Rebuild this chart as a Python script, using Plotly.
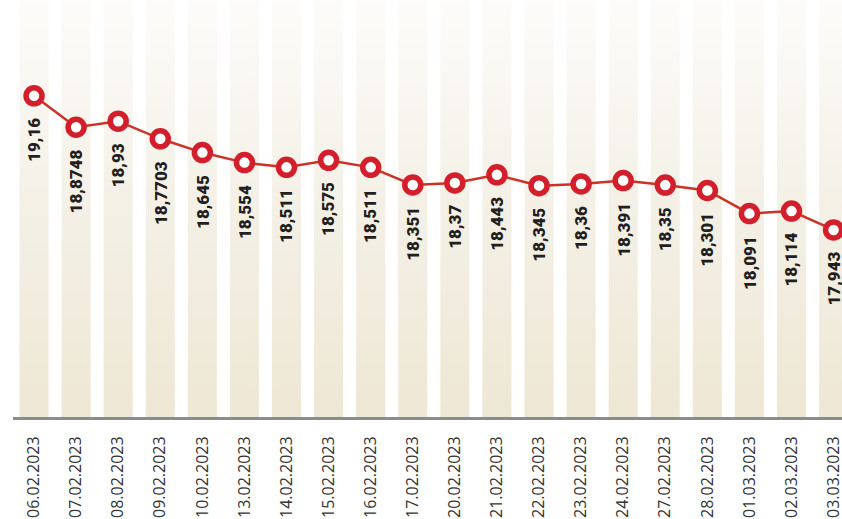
import plotly.graph_objects as go

dates = ["06.02.2023", "07.02.2023", "08.02.2023", "09.02.2023", "10.02.2023",
         "13.02.2023", "14.02.2023", "15.02.2023", "16.02.2023", "17.02.2023",
         "20.02.2023", "21.02.2023", "22.02.2023", "23.02.2023", "24.02.2023",
         "27.02.2023", "28.02.2023", "01.03.2023", "02.03.2023", "03.03.2023"]
rates = [19.16, 18.8748, 18.93, 18.7703, 18.645,
         18.554, 18.511, 18.575, 18.511, 18.351,
         18.37, 18.443, 18.345, 18.36, 18.391,
         18.35, 18.301, 18.091, 18.114, 17.943]
labels = [str(v).replace(".", ",") for v in rates]

Y_MIN, Y_MAX = 16.245, 20.03
BAR_HALF = 0.345
idx = list(range(len(dates)))

# background columns (one per date) with vertical gradient
bx, by = [], []
for i in idx:
    bx += [i - BAR_HALF, i + BAR_HALF, i + BAR_HALF, i - BAR_HALF, i - BAR_HALF, None]
    by += [Y_MIN, Y_MIN, Y_MAX, Y_MAX, Y_MIN, None]

fig = go.Figure()
fig.add_trace(go.Scatter(
    x=bx, y=by, mode="lines", line=dict(width=0), fill="toself",
    fillgradient=dict(type="vertical", start=Y_MIN, stop=Y_MAX,
                      colorscale=[[0, "#eee7d4"], [0.5, "#f4f0e6"], [1, "#fdfcfa"]]),
    hoverinfo="skip", showlegend=False))

fig.add_trace(go.Scatter(
    x=idx, y=rates, mode="lines+markers",
    line=dict(color="#cd3324", width=2.5),
    marker=dict(size=16, color="white", line=dict(color="#d21f2b", width=5.5)),
    cliponaxis=False, showlegend=False))

for i, v, t in zip(idx, rates, labels):
    fig.add_annotation(x=i, y=v, text=t, showarrow=False, textangle=-90,
                       xanchor="center", yanchor="top", yshift=-20,
                       font=dict(family="Roboto", size=17, color="#231f20", weight=900))

fig.update_layout(
    width=842, height=519,
    margin=dict(l=13, r=0, t=0, b=102),
    paper_bgcolor="white", plot_bgcolor="white",
    xaxis=dict(range=[-0.5, 19.2], tickmode="array", tickvals=idx, ticktext=dates,
               tickangle=-90, showgrid=False, zeroline=False,
               showline=True, linecolor="#8c8c8c", linewidth=3,
               ticklabelstandoff=10, automargin=False, ticklabeloverflow="allow",
               tickfont=dict(family="Open Sans", size=16, color="#333333")),
    yaxis=dict(range=[Y_MIN, Y_MAX], visible=False, showgrid=False, zeroline=False),
)

fig.write_html("out.html", config={"displayModeBar": False},
               post_script="document.body.style.margin='0';document.body.style.overflow='hidden';")
